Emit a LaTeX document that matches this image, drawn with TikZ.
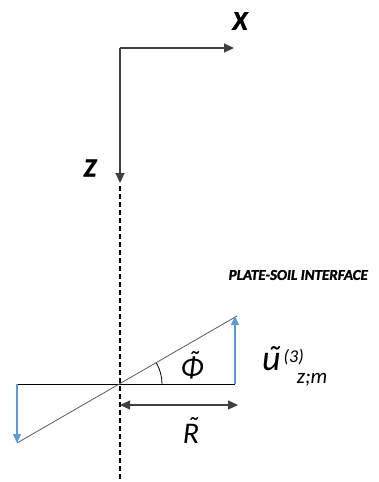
\documentclass[tikz,border=0pt]{standalone}
\usepackage{fontspec}
\setmainfont{Carlito}
\newfontfamily\heavyfont{Carlito}[FakeBold=1.6]
\usetikzlibrary{arrows.meta,calc,positioning}
\definecolor{dispblue}{RGB}{91,155,213}
% tilde set over a letter
\newcommand{\tildeon}[2]{\leavevmode\setbox0\hbox{#2}\rlap{\hbox to\wd0{\hss\kern0.12em\raisebox{#1}{˜}\hss}}\box0}

\begin{document}
\begin{tikzpicture}[x=1pt,y=-1pt,
every node/.style={inner sep=0pt,font=\itshape},
axis/.style={draw=black!75,line width=1.1pt,-{Triangle[length=10pt,width=9pt]}},
disp/.style={draw=dispblue,line width=1.1pt,-{Triangle[length=9pt,width=8pt]}},
dim/.style={draw=black!75,line width=1.1pt,{Triangle[length=10pt,width=9pt]}-{Triangle[length=10pt,width=9pt]}}]
\useasboundingbox (0,0) rectangle (378,482);
% axes
\coordinate (O) at (120,48);
\coordinate (Xend) at (234,48);
\coordinate (Zend) at (120,183);
\draw[axis] (O)--(Xend);
\draw[axis] (O)--(Zend);
\node[font=\heavyfont\bfseries\itshape\fontsize{27}{27}\selectfont] (X) at (240,21) {X};
\node[font=\heavyfont\bfseries\itshape\fontsize{26}{26}\selectfont] (Z) at (90,168) {Z};
% plate
\coordinate (Dtop) at (120,186);
\coordinate (Dbot) at (120,481);
\coordinate (P) at (120,384);
\coordinate (Lh) at (17,384);
\coordinate (Rh) at (235,384);
\coordinate (Tr) at (237,316);
\coordinate (Bl) at (17,443);
\coordinate (Tip) at (235,316);
\coordinate (Bot) at (17,443);
\draw[line width=1.3pt,dash pattern=on 5pt off 3pt] (Dtop)--(Dbot);
\draw[line width=0.8pt] (Lh)--(Rh);
\draw[line width=0.8pt,black!65] (Bl)--(Tr);
\draw[disp] (Rh)--(Tip);
\draw[disp] (Lh)--(Bot);
\draw[line width=0.8pt] ($(P)+(42,0)$) arc[start angle=0,end angle=-30,radius=42];
\coordinate (Ra) at (120,405);
\coordinate (Rb) at (238,405);
\draw[dim] (Ra)--(Rb);
% labels
\node[font=\heavyfont\bfseries\itshape\fontsize{15}{15}\selectfont,anchor=east] (iface) at (368,275) {PLATE-SOIL INTERFACE};
\node[font=\itshape\fontsize{30}{30}\selectfont] (phi) at (192,365) {\tildeon{0.2em}{Φ}};
\node[font=\itshape\fontsize{30}{30}\selectfont] (R) at (191,430) {\tildeon{0.2em}{R}};
\node[anchor=base west] (u) at (262,370) {\fontsize{36}{36}\selectfont\tildeon{0pt}{u}\hspace{3pt}\raisebox{8pt}{\fontsize{18}{18}\selectfont(3)}\hspace{-7pt}\raisebox{-13pt}{\fontsize{21}{21}\selectfont z;m}};
\end{tikzpicture}
\end{document}
